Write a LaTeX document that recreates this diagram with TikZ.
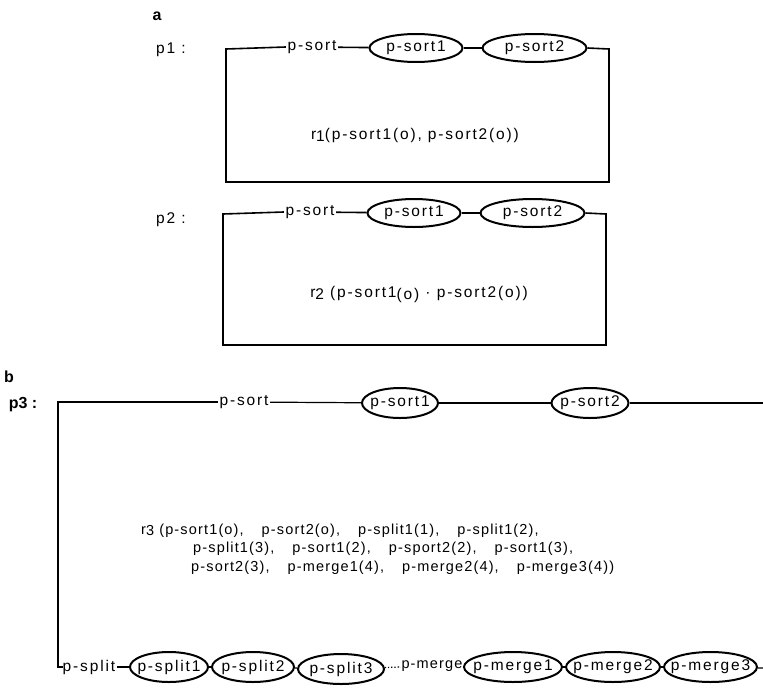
\documentclass[tikz,border=0pt]{standalone}
\usepackage{fontspec}
\setmainfont{Liberation Sans}
\newfontfamily\spfont[LetterSpace=12]{Liberation Sans}
\newfontfamily\rfont[LetterSpace=8]{Liberation Sans}
\usetikzlibrary{positioning,shapes.geometric}
\newcommand{\itemgap}{\hspace{18pt}}
\tikzset{
  txt/.style={inner sep=1.5pt, font=\spfont\fontsize{15.5}{17}\selectfont},
  txtb/.style={txt, font=\rfont\fontsize{14.5}{16}\selectfont},
  rtext/.style={inner sep=0pt, font=\spfont\fontsize{15.5}{17}\selectfont},
  rtextb/.style={rtext, font=\rfont\fontsize{14.5}{18.5}\selectfont},
  oval/.style={ellipse, draw, line width=2pt, inner xsep=-20pt, inner ysep=0pt,
    minimum height=28pt, font=\spfont\fontsize{15.5}{17}\selectfont},
  ovalb/.style={oval, minimum height=30pt},
  tag/.style={inner sep=0pt, font=\bfseries\fontsize{16}{18}\selectfont},
  plabel/.style={inner sep=0pt, font=\spfont\fontsize{15.5}{17}\selectfont},
  wire/.style={line width=1.6pt},
  thinwire/.style={line width=1.2pt}
}
\begin{document}
\begin{tikzpicture}[x=1pt, y=-1pt, node distance=2pt]
  \useasboundingbox (0,0) rectangle (763,691);
  % part a
  \node[tag] (taga) at (157,16) {a};
  \node[plabel] (p1) at (171,50) {p1 :};
  \coordinate (a1nw) at (226,49);
  \coordinate (a1sw) at (226,182);
  \coordinate (a1se) at (609,182);
  \coordinate (a1ne) at (609,49);
  \node[txt] (sortA) at (312,47) {p-sort};
  \node[oval, minimum width=93pt] (sortAi) at (416,48) {p-sort1};
  \node[oval, minimum width=104pt, right=18pt of sortAi] (sortAii) {p-sort2};
  \node[rtext] (r1) at (415,135) {r\raisebox{-2pt}{1}(p-sort1(o),\hspace{6pt}p-sort2(o))};
  \draw[wire] (sortA.west) -- (a1nw) -- (a1sw) -- (a1se) -- (a1ne) -- (sortAii.east);
  \draw[wire] (sortA) -- (sortAi);
  \draw[wire] (sortAi) -- (sortAii);

  \node[plabel] (p2) at (171,220) {p2 :};
  \coordinate (a2nw) at (223,214);
  \coordinate (a2sw) at (223,345);
  \coordinate (a2se) at (606,345);
  \coordinate (a2ne) at (606,214);
  \node[txt] (sortB) at (310,212) {p-sort};
  \node[oval, minimum width=93pt] (sortBi) at (414,213) {p-sort1};
  \node[oval, minimum width=104pt, right=18pt of sortBi] (sortBii) {p-sort2};
  \node[rtext] (r2) at (419,294) {r\raisebox{-2pt}{2} (p-sort1\raisebox{-2pt}{(o)} · p-sort2(o))};
  \draw[wire] (sortB.west) -- (a2nw) -- (a2sw) -- (a2se) -- (a2ne) -- (sortBii.east);
  \draw[wire] (sortB) -- (sortBi);
  \draw[wire] (sortBi) -- (sortBii);

  % part b
  \node[tag] (tagb) at (9,377) {b};
  \node[tag] (p3) at (23,405) {p3 :};
  \coordinate (bnw) at (58,402);
  \coordinate (bsw) at (58,667);
  \coordinate (bne) at (763,403);
  \coordinate (bse) at (763,668);
  \node[txt] (sortC) at (244,402) {p-sort};
  \node[ovalb, minimum width=76pt] (sortCi) at (400,403) {p-sort1};
  \node[ovalb, minimum width=77pt] (sortCii) at (590,403) {p-sort2};
  \draw[thinwire] (sortC.west) -- (bnw) -- (bsw) -- ++(5,0) coordinate (bcorner);
  \draw[thinwire] (sortC) -- (sortCi);
  \draw[thinwire] (sortCi) -- (sortCii);
  \draw[thinwire] (sortCii) -- (bne);

  \node[rtextb, anchor=west, align=left] (r3) at (141,549) {r\raisebox{-1.5pt}{3} (p-sort1(o),\itemgap p-sort2(o),\itemgap p-split1(1),\itemgap p-split1(2),\\
    \hspace*{52pt}p-split1(3),\itemgap p-sort1(2),\itemgap p-sport2(2),\itemgap p-sort1(3),\\
    \hspace*{50pt}p-sort2(3),\itemgap p-merge1(4),\itemgap p-merge2(4),\itemgap p-merge3(4))};

  \node[txt, anchor=west] (split) at (61,667) {p-split};
  \node[ovalb, minimum width=78pt] (spliti) at (169,667) {p-split1};
  \node[ovalb, minimum width=82pt, right=of spliti] (splitii) {p-split2};
  \node[ovalb, minimum width=86pt, right=of splitii, yshift=-2pt] (splitiii) {p-split3};
  \coordinate (dotend) at (400,667);
  \node[txtb] (merge) at (432,666) {p-merge};
  \node[ovalb, minimum width=98pt] (mergei) at (513,667) {p-merge1};
  \node[ovalb, minimum width=94pt, right=of mergei] (mergeii) {p-merge2};
  \node[ovalb, minimum width=93pt, right=of mergeii] (mergeiii) {p-merge3};
  \draw[thinwire] (bcorner) -- (split);
  \draw[thinwire] (split) -- (spliti);
  \draw[thinwire] (spliti) -- (splitii);
  \draw[thinwire] (splitii) -- (splitiii);
  \draw[thinwire, dotted] (splitiii) -- (dotend);
  \draw[thinwire] (dotend) -- (merge);
  \draw[thinwire] (merge) -- (mergei);
  \draw[thinwire] (mergei) -- (mergeii);
  \draw[thinwire] (mergeii) -- (mergeiii);
  \draw[thinwire] (mergeiii) -- (bse);
\end{tikzpicture}
\end{document}
